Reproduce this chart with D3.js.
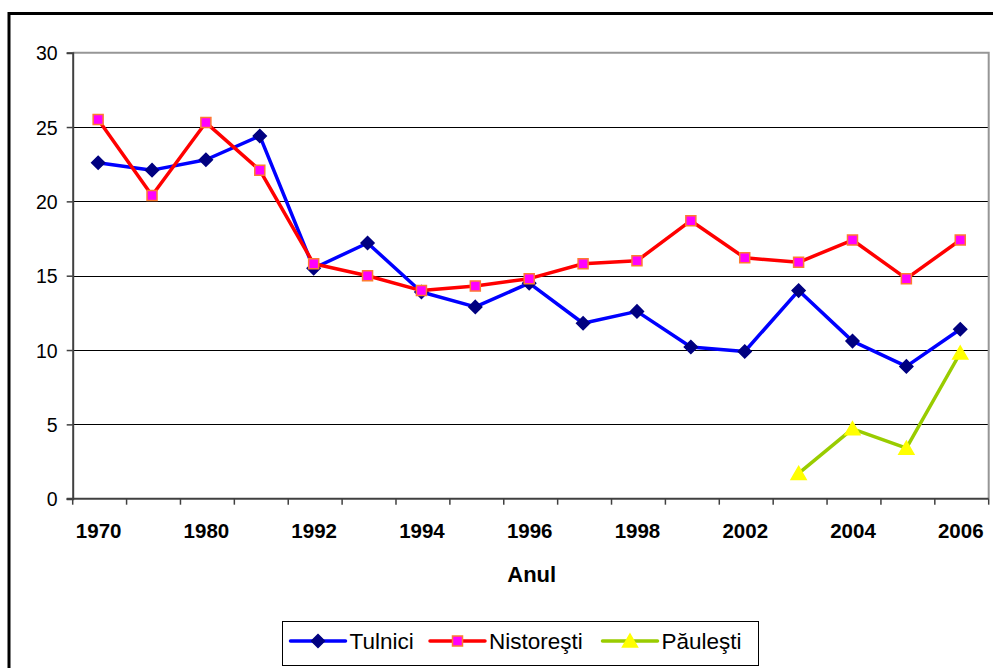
<!DOCTYPE html>
<html>
<head>
<meta charset="utf-8">
<script src="https://cdn.jsdelivr.net/npm/d3@7"></script>
<style>
  body { margin: 0; background: #ffffff; }
  svg { display: block; font-family: "Liberation Sans", Arial, sans-serif; }
</style>
</head>
<body>
<div id="chartDiv"></div>
<script>
// categories (only every second one is labelled on the axis)
var years = ["1970", "1975", "1980", "1985", "1992", "1993", "1994", "1995", "1996",
             "1997", "1998", "2000", "2002", "2003", "2004", "2005", "2006"];

var tulnici    = [22.6, 22.1, 22.8, 24.4, 15.5, 17.2, 13.9, 12.9, 14.5, 11.8, 12.6, 10.2, 9.9, 14.0, 10.6, 8.9, 11.4];
var nistoresti = [25.5, 20.4, 25.3, 22.1, 15.8, 15.0, 14.0, 14.3, 14.8, 15.8, 16.0, 18.7, 16.2, 15.9, 17.4, 14.8, 17.4];
var pauleşti   = [null, null, null, null, null, null, null, null, null, null, null, null, null, 1.7, 4.7, 3.4, 9.8];

var yTicks = [0, 5, 10, 15, 20, 25, 30];

var seriesNames = ["Tulnici", "Nistoreşti", "Păuleşti"];

var series = [
    { name: seriesNames[0], values: tulnici, line: "#0000ff", marker: "diamond", fill: "#000080", stroke: "#000080" },
    { name: seriesNames[1], values: nistoresti, line: "#ff0000", marker: "square", fill: "#ff00ff", stroke: "#ff7a30" },
    { name: seriesNames[2], values: pauleşti, line: "#99cc00", marker: "triangle", fill: "#ffff00", stroke: "#ffff00" }
];

var W = 993, H = 668;
var plot = { left: 72.7, right: 988.7, top: 52.7, bottom: 498.7 };

var svg = d3.select("#chartDiv").append("svg")
    .attr("width", W)
    .attr("height", H);

// outer chart frame (runs past the picture on the right and bottom)
svg.append("rect")
    .attr("x", 9).attr("y", 13.5)
    .attr("width", 1000).attr("height", 700)
    .attr("fill", "#ffffff")
    .attr("stroke", "#000000")
    .attr("stroke-width", 3);

var x = d3.scaleBand()
    .domain(years)
    .range([plot.left, plot.right])
    .padding(0);

var y = d3.scaleLinear()
    .domain([0, 30])
    .range([plot.bottom, plot.top]);

var cx = function (i) { return x(years[i]) + x.bandwidth() / 2 - 1.5; };

// gridlines
svg.append("g")
    .selectAll("line")
    .data(yTicks.filter(function (d) { return d > 0 && d < 30; }))
    .enter().append("line")
    .attr("x1", plot.left).attr("x2", plot.right)
    .attr("y1", function (d) { return Math.round(y(d)) + 0.5; })
    .attr("y2", function (d) { return Math.round(y(d)) + 0.5; })
    .attr("stroke", "#000000")
    .attr("stroke-width", 1);

// plot area border (top and right, grey)
svg.append("path")
    .attr("d", "M" + plot.left + "," + plot.top + "H" + plot.right + "V" + plot.bottom)
    .attr("fill", "none")
    .attr("stroke", "#969696")
    .attr("stroke-width", 2);

// y axis
var yAxis = d3.axisLeft(y)
    .tickValues(yTicks)
    .tickSize(6)
    .tickPadding(9);

var gy = svg.append("g")
    .attr("transform", "translate(" + plot.left + ",0)")
    .call(yAxis);
gy.select(".domain").attr("stroke", "#404040").attr("stroke-width", 2);
gy.selectAll(".tick line").attr("stroke", "#404040").attr("stroke-width", 1.5);
gy.selectAll(".tick text")
    .attr("fill", "#000000")
    .style("font-size", "19.5px")
    .attr("dy", "0.36em");

// x axis: ticks on category boundaries, labels every second category
var boundaries = d3.range(years.length + 1).map(function (i) {
    return plot.left + i * x.bandwidth();
});
var gx = svg.append("g");
gx.append("line")
    .attr("x1", plot.left - 6).attr("x2", plot.right)
    .attr("y1", plot.bottom).attr("y2", plot.bottom)
    .attr("stroke", "#404040")
    .attr("stroke-width", 2);
gx.selectAll("line.tk")
    .data(boundaries)
    .enter().append("line")
    .attr("class", "tk")
    .attr("x1", function (d) { return d; }).attr("x2", function (d) { return d; })
    .attr("y1", plot.bottom).attr("y2", plot.bottom + 6)
    .attr("stroke", "#404040")
    .attr("stroke-width", 1.5);
gx.selectAll("text")
    .data(years.filter(function (d, i) { return i % 2 === 0; }))
    .enter().append("text")
    .attr("x", function (d) { return x(d) + x.bandwidth() / 2 - 1; })
    .attr("y", 538)
    .attr("text-anchor", "middle")
    .style("font-size", "20.5px")
    .style("font-weight", "bold")
    .text(function (d) { return d; });

// x axis title
svg.append("text")
    .attr("x", (plot.left + plot.right) / 2 + 1)
    .attr("y", 582)
    .attr("text-anchor", "middle")
    .style("font-size", "22px")
    .style("font-weight", "bold")
    .text("Anul");

// marker shapes
function markerPath(type) {
    if (type === "diamond") return "M0,-6.5L6.5,0L0,6.5L-6.5,0Z";
    if (type === "square") return "M-5,-5H5V5H-5Z";
    return "M0,-7L7.5,6L-7.5,6Z";
}

var line = d3.line()
    .defined(function (d) { return d != null; })
    .x(function (d, i) { return cx(i); })
    .y(function (d) { return y(d); });

series.forEach(function (s) {
    var g = svg.append("g");
    g.append("path")
        .datum(s.values)
        .attr("d", line)
        .attr("fill", "none")
        .attr("stroke", s.line)
        .attr("stroke-width", 3.5)
        .attr("stroke-linejoin", "round");
    g.selectAll("path.mk")
        .data(s.values.map(function (v, i) { return { v: v, i: i }; })
            .filter(function (d) { return d.v != null; }))
        .enter().append("path")
        .attr("class", "mk")
        .attr("transform", function (d) { return "translate(" + cx(d.i) + "," + y(d.v) + ")"; })
        .attr("d", markerPath(s.marker))
        .attr("fill", s.fill)
        .attr("stroke", s.stroke)
        .attr("stroke-width", 1.5);
});

// legend
var legend = svg.append("g");
legend.append("rect")
    .attr("x", 282.5).attr("y", 621.5)
    .attr("width", 476).attr("height", 44)
    .attr("fill", "#ffffff")
    .attr("stroke", "#000000")
    .attr("stroke-width", 1);

var legendX = [290.5, 430, 602.5];
series.forEach(function (s, k) {
    var lx = legendX[k], ly = 641;
    legend.append("line")
        .attr("x1", lx).attr("x2", lx + 55)
        .attr("y1", ly).attr("y2", ly)
        .attr("stroke", s.line)
        .attr("stroke-width", 3.5)
        .attr("stroke-linecap", "round");
    legend.append("path")
        .attr("transform", "translate(" + (lx + 27.5) + "," + ly + ")")
        .attr("d", markerPath(s.marker))
        .attr("fill", s.fill)
        .attr("stroke", s.stroke)
        .attr("stroke-width", 1.5);
    legend.append("text")
        .attr("x", lx + 59)
        .attr("y", 649)
        .style("font-size", "22.5px")
        .text(s.name);
});
</script>
</body>
</html>
